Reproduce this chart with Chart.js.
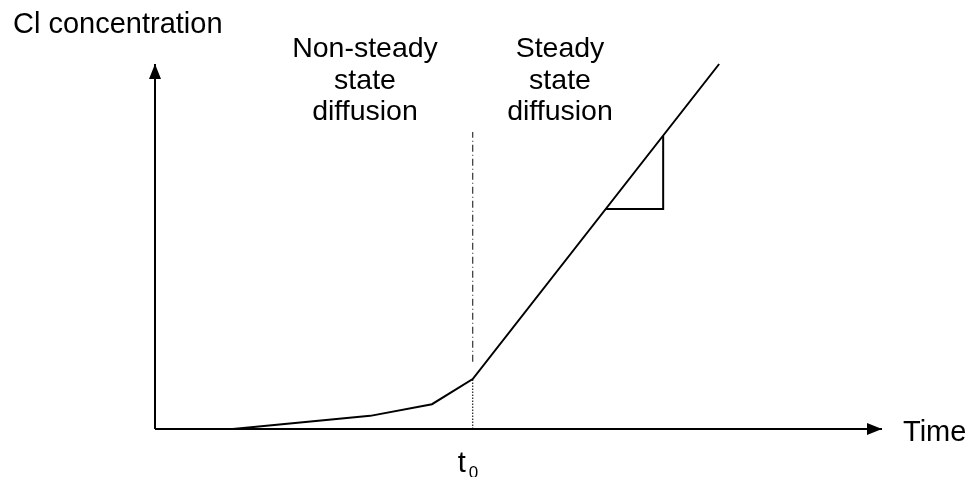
<!DOCTYPE html>
<html>
<head>
<meta charset="utf-8">
<script src="https://cdn.jsdelivr.net/npm/chart.js@4.4.1/dist/chart.umd.min.js"></script>
<style>
  html, body { margin: 0; padding: 0; background: #fff; }
  #wrap { width: 974px; height: 477px; position: relative; }
</style>
</head>
<body>
<div id="wrap"><canvas id="diffusionChart"></canvas></div>
<script>
// values (time / concentration, arbitrary units 0..100)
const curveTime = [10.7, 29.6, 38.1, 43.7, 77.6];
const curveConc = [0, 3.6, 6.8, 13.7, 100];
const slopeTime = [62.0, 69.9, 69.9];
const slopeConc = [60.3, 60.3, 80.3];
const t0 = 43.7;
const t0LineTop = 81.4;
const t0LineGap = 18.4;
const axisMax = 100;
const yTitle = 'Cl concentration';
const xTitle = 'Time';
const nonSteadyLabel = ['Non-steady', 'state', 'diffusion'];
const steadyLabel = ['Steady', 'state', 'diffusion'];

const toPoints = (xs, ys) => xs.map((x, i) => ({ x: x, y: ys[i] }));
const t0Conc = curveConc[curveTime.indexOf(t0)];

const FONT = '"Liberation Sans", Arial, sans-serif';

// arrow heads on the axis ends
const arrowPlugin = {
    id: 'arrows',
    afterDatasetsDraw(chart) {
        const ctx = chart.ctx;
        chart.data.datasets.forEach((ds, i) => {
            if (!ds.arrow) return;
            const pts = chart.getDatasetMeta(i).data;
            const tip = pts[pts.length - 1];
            const prev = pts[pts.length - 2];
            const ang = Math.atan2(tip.y - prev.y, tip.x - prev.x);
            const len = 15, half = 6;
            ctx.save();
            ctx.translate(tip.x, tip.y);
            ctx.rotate(ang);
            ctx.beginPath();
            ctx.moveTo(0, 0);
            ctx.lineTo(-len, -half);
            ctx.lineTo(-len, half);
            ctx.closePath();
            ctx.fillStyle = '#000';
            ctx.fill();
            ctx.restore();
        });
    }
};

// the text around the sketch
const labelPlugin = {
    id: 'labels',
    afterDraw(chart) {
        const ctx = chart.ctx;
        const xs = chart.scales.x, ys = chart.scales.y;
        ctx.save();
        ctx.fillStyle = '#000';
        ctx.textBaseline = 'alphabetic';
        ctx.font = '29px ' + FONT;

        ctx.textAlign = 'left';
        ctx.fillText(yTitle, 13, 33);
        ctx.fillText(xTitle, xs.getPixelForValue(axisMax) + 21, ys.getPixelForValue(0) + 12);

        ctx.font = '28.5px ' + FONT;
        ctx.textAlign = 'center';
        nonSteadyLabel.forEach((s, i) => ctx.fillText(s, 365, 57 + i * 31.5));
        steadyLabel.forEach((s, i) => ctx.fillText(s, 560, 57 + i * 31.5));

        // t0 under the axis
        const px = xs.getPixelForValue(t0);
        ctx.textAlign = 'left';
        ctx.font = '29px ' + FONT;
        ctx.fillText('t', px - 15, 472);
        ctx.font = '17px ' + FONT;
        ctx.fillText('0', px - 4, 478);
        ctx.restore();
    }
};

const lineStyle = {
    showLine: true,
    pointRadius: 0,
    borderColor: '#000',
    borderWidth: 2,
    tension: 0,
    fill: false,
    clip: false
};

new Chart(document.getElementById('diffusionChart'), {
    type: 'scatter',
    data: {
        datasets: [
            Object.assign({}, lineStyle, { data: toPoints([0, axisMax], [0, 0]), arrow: true }),
            Object.assign({}, lineStyle, { data: toPoints([0, 0], [0, axisMax]), arrow: true }),
            Object.assign({}, lineStyle, { data: toPoints(curveTime, curveConc) }),
            Object.assign({}, lineStyle, { data: toPoints(slopeTime, slopeConc) }),
            Object.assign({}, lineStyle, {
                data: toPoints([t0, t0], [t0LineGap, t0LineTop]),
                borderWidth: 1.2, borderColor: '#333', borderDash: [7, 3, 1, 3]
            }),
            Object.assign({}, lineStyle, {
                data: toPoints([t0, t0], [0, t0Conc]),
                borderWidth: 1.2, borderColor: '#222', borderDash: [1.5, 1.5]
            })
        ]
    },
    options: {
        responsive: true,
        maintainAspectRatio: false,
        animation: false,
        layout: { padding: { left: 155, right: 92, top: 64, bottom: 48 } },
        plugins: {
            legend: { display: false },
            tooltip: { enabled: false }
        },
        scales: {
            x: { type: 'linear', min: 0, max: axisMax, display: false },
            y: { type: 'linear', min: 0, max: axisMax, display: false }
        }
    },
    plugins: [arrowPlugin, labelPlugin]
});
</script>
</body>
</html>
